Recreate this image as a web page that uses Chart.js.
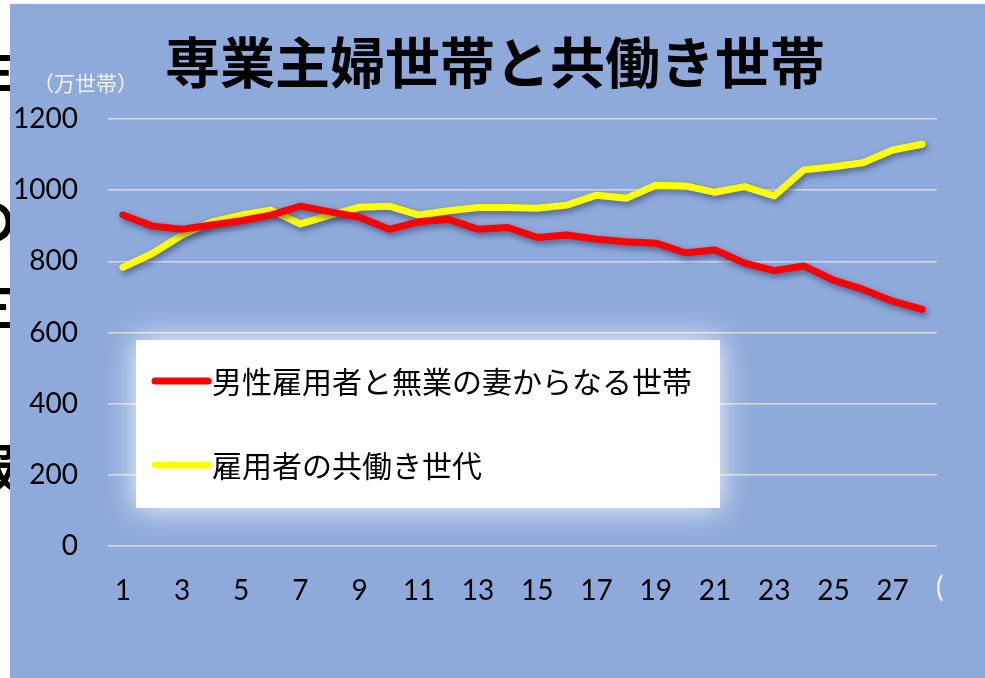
<!DOCTYPE html>
<html lang="ja">
<head>
<meta charset="utf-8">
<script src="https://cdn.jsdelivr.net/npm/chart.js@4.4.1/dist/chart.umd.min.js"></script>
<style>
  body { margin: 0; background: #fff; width: 985px; height: 678px; overflow: hidden; position: relative; }
  #behind { position: absolute; left: -34px; top: 0; font: bold 50px "Noto Sans CJK JP"; color: #000; z-index: 0; }
  #behind div { position: absolute; left: 0; }
  #panel { position: absolute; left: 10px; top: 4px; width: 975px; height: 674px; background: #8eaadb; z-index: 1; }
</style>
</head>
<body>
<div id="behind">
  <div style="top:30px">主</div>
  <div style="top:112px">、</div>
  <div style="top:182px">の</div>
  <div style="top:268px">三</div>
  <div style="top:346px">I</div>
  <div style="top:428px">服</div>
</div>
<div id="panel"><canvas id="myChart" width="975" height="674"></canvas></div>
<script>
let years = [];
for (let i = 1; i <= 28; i++) years.push(String(i));

let seriesNames = ['男性雇用者と無業の妻からなる世帯', '雇用者の共働き世代'];
let housewife = [930, 899, 890, 902, 914, 930, 955, 939, 924, 890, 911, 918, 890, 895, 867,
                 874, 862, 855, 851, 824, 832, 795, 774, 787, 747, 721, 688, 665];
let dualIncome = [783, 822, 874, 911, 930, 944, 905, 930, 952, 955, 930, 942, 951, 951, 949,
                  958, 986, 977, 1014, 1012, 994, 1010, 984, 1057, 1066, 1077, 1113, 1129];
let yTicks = [0, 200, 400, 600, 800, 1000, 1200];

let chartTitle = '専業主婦世帯と共働き世帯';
let unitLabel = '（万世帯）';

// legend box, titles and line shadow drawn on the canvas
let decorations = {
  id: 'decorations',
  beforeDatasetsDraw(chart) {
    let ctx = chart.ctx;
    ctx.save();
    ctx.shadowColor = 'rgba(255,255,255,0.95)';
    ctx.shadowBlur = 30;
    ctx.fillStyle = '#ffffff';
    ctx.fillRect(126, 336, 584, 168);
    ctx.shadowBlur = 0;
    ctx.fillRect(126, 336, 584, 168);
    let rows = [377, 461];
    chart.data.datasets.forEach(function(ds, i) {
      ctx.strokeStyle = ds.borderColor;
      ctx.lineWidth = 7;
      ctx.lineCap = 'round';
      ctx.beginPath();
      ctx.moveTo(145, rows[i]);
      ctx.lineTo(198, rows[i]);
      ctx.stroke();
      ctx.fillStyle = '#000';
      ctx.font = '30px "Noto Sans CJK JP"';
      ctx.textBaseline = 'middle';
      ctx.textAlign = 'left';
      ctx.fillText(ds.label, 202, rows[i] + 1);
    });
    ctx.restore();

    ctx.save();
    ctx.shadowColor = 'rgba(30,45,90,0.6)';
    ctx.shadowBlur = 6;
    ctx.shadowOffsetX = 2;
    ctx.shadowOffsetY = 3;
  },
  afterDatasetsDraw(chart) {
    chart.ctx.restore();
  },
  afterDraw(chart) {
    let ctx = chart.ctx;
    ctx.save();
    ctx.fillStyle = '#000';
    ctx.font = 'bold 55px "Noto Sans CJK JP"';
    ctx.textAlign = 'center';
    ctx.textBaseline = 'middle';
    ctx.fillText(chartTitle, 485, 58);
    ctx.fillStyle = '#f2f2f2';
    ctx.font = '21px "Noto Sans CJK JP"';
    ctx.textAlign = 'left';
    ctx.fillText(unitLabel, 23, 79);
    ctx.font = '28px Lato';
    ctx.fillText('(', 926, 584);
    ctx.restore();
  }
};

let ctx = document.getElementById('myChart').getContext('2d');
let myChart = new Chart(ctx, {
  type: 'line',
  data: {
    labels: years,
    datasets: [{
      label: seriesNames[0],
      data: housewife,
      borderColor: '#ff0000',
      borderWidth: 7,
      pointRadius: 0,
      borderCapStyle: 'round',
      borderJoinStyle: 'round',
      tension: 0
    }, {
      label: seriesNames[1],
      data: dualIncome,
      borderColor: '#ffff00',
      borderWidth: 7,
      pointRadius: 0,
      borderCapStyle: 'round',
      borderJoinStyle: 'round',
      tension: 0
    }]
  },
  options: {
    responsive: false,
    animation: false,
    layout: { padding: { top: 115, right: 48, left: 0, bottom: 0 } },
    plugins: {
      legend: { display: false },
      title: { display: false },
      tooltip: { enabled: false }
    },
    scales: {
      x: {
        offset: true,
        grid: { display: false, drawTicks: false },
        border: { display: false },
        afterFit: function(scale) { scale.height = 132; },
        ticks: {
          autoSkip: false,
          maxRotation: 0,
          padding: 28,
          color: '#000',
          font: { family: 'Lato', size: 28 },
          callback: function(value, index) { return index % 2 === 0 ? years[index] : ''; }
        }
      },
      y: {
        min: 0,
        max: 1200,
        afterFit: function(scale) { scale.width = 98; },
        afterBuildTicks: function(scale) { scale.ticks = yTicks.map(function(v) { return { value: v }; }); },
        grid: { color: '#d9d9d9', lineWidth: 1.5, drawTicks: false },
        border: { display: false },
        ticks: {
          padding: 30,
          color: '#000',
          font: { family: 'Lato', size: 28 },
          callback: function(value) { return String(value); }
        }
      }
    }
  },
  plugins: [decorations]
});
</script>
</body>
</html>
